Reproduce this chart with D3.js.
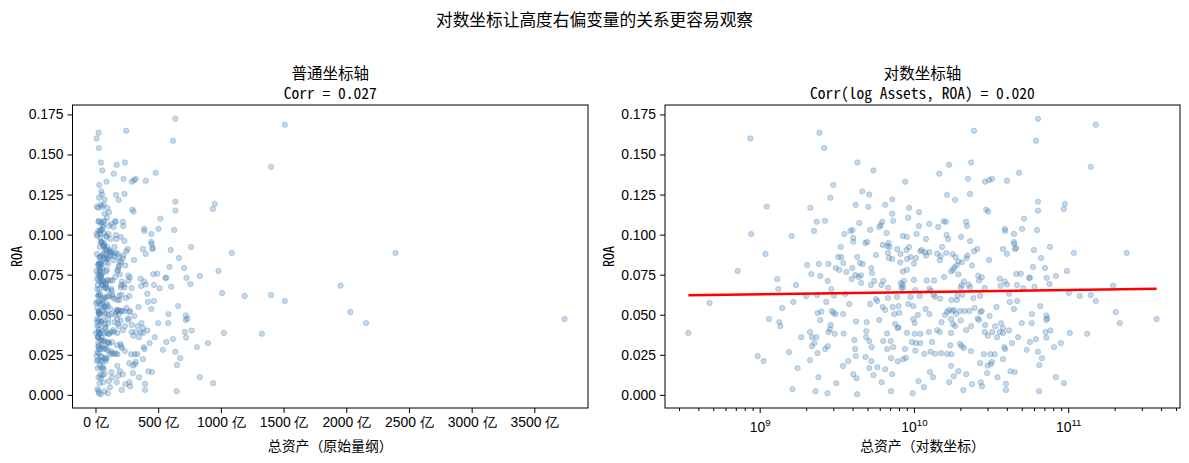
<!DOCTYPE html>
<html>
<head>
    <meta charset="utf-8">
    <title>对数坐标 vs 普通坐标</title>
    <script src="https://d3js.org/d3.v7.min.js"></script>
    <style>
        body {
            margin: 0;
            background: #fff;
            font-family: "Noto Sans Mono CJK SC", "Noto Sans CJK SC", sans-serif;
        }

        svg text {
            fill: #000;
        }

        .tick text {
            font-size: 13.9px;
        }

        .tick line {
            stroke: #000;
            stroke-width: 1;
        }

        .axis path {
            display: none;
        }

        .frame {
            fill: none;
            stroke: #000;
            stroke-width: 1;
        }

        .point {
            fill: steelblue;
            fill-opacity: 0.3;
            stroke: steelblue;
            stroke-opacity: 0.3;
            stroke-width: 1;
        }

        .trend {
            fill: none;
            stroke: red;
            stroke-width: 2.5;
        }
    </style>
</head>
<body>
    <div id="chart"></div>

    <script>
        // 总资产（单位：亿）与 ROA，两张子图共用同一批样本
        const assetsYi = [
            8.7, 24.4, 26.2, 43, 54.5, 87.7, 30, 46.2, 51.3, 28.7, 72.3, 11.1, 21.3, 41.9, 50.6, 65.1, 93, 108, 72.3, 91.7,
            637, 1510, 245, 618, 169, 235, 146, 224, 289, 307, 321, 401, 480, 1400, 164, 185, 231, 637, 952, 936,
            637, 294, 303, 517, 156,
            23.4, 26.5, 22.5, 8.8, 16.1, 44.2, 38.7, 40, 35.4, 52, 59.6, 60.8, 62.3, 66.5, 73.4, 107.6, 84.8, 90, 104, 40.4,
            40.4, 48.3, 49.8, 68.5, 62.7, 67.1, 69.5, 77.9, 89.5, 93, 112, 33.5, 10.9, 32.3, 33.8, 42.9, 56.7, 67.8, 68.8, 72.3,
            81.9, 81.5, 90.3, 95, 103, 100, 110, 34.8, 44.7, 46.5, 20.3, 24.2, 27.9, 31.1, 32.8, 36.4, 39.8, 52.9, 7.2, 21.6,
            24.7, 39.5, 41.7, 43.8, 45.4, 53.4, 45.5, 52.6, 55.3, 61.4, 63.2, 68, 82, 84, 83, 85, 86, 100, 90, 84.8,
            102, 27.6, 13, 13.2, 17.2, 29.1, 30.3, 20, 23.6, 35.9, 4.73, 16.5, 27, 38.1, 51.9, 56.7, 57.8, 62.7, 67.8, 72.7,
            77.9, 79.5, 92, 95, 99, 109, 14, 23.7, 25.1, 29.4, 30.1, 31, 34.7, 65.1, 74.5, 80.2, 106, 11.5, 13.4, 13.6,
            24.7, 28.9, 28.5, 42.1, 49.4, 59.6, 75.5, 78.3, 79.5, 99, 101, 3.45, 21.2, 27.9, 30.6, 35, 49.1, 67, 90, 101,
            110,
            125.6, 143.6, 161, 218, 221, 388, 390, 445, 502, 628, 119.6, 162.6, 166.7, 202, 231, 152, 118, 126, 120, 141.5,
            149, 147, 162, 178, 186, 194, 189, 183, 174, 179, 194, 204, 219, 222, 238, 245, 257, 307, 378, 401,
            445, 447, 459, 452, 600, 666, 762, 1087, 2393, 591, 707, 981, 832, 725, 565, 557, 461, 492, 360, 388,
            401, 261, 275, 264, 211, 227, 231, 201, 204, 121, 135, 157, 126, 129, 134, 137, 288, 364, 466, 512,
            604, 757, 1954, 148, 175, 190, 206, 191, 243, 269, 343, 418, 413, 466, 445, 1010, 1189, 1400, 1510, 659,
            2032, 2158, 3741, 119, 126, 151, 141, 159, 164, 169, 177, 182, 188, 174, 179, 185, 174, 199, 213, 229,
            201, 235, 218, 247, 270, 275, 259, 264, 309, 289, 336, 367, 378, 413, 378, 500, 582, 721, 732, 721,
            580, 288, 322, 360, 712, 767, 1024, 1327, 147, 125,
            9.7, 10.6, 15.5, 17.6, 16.3, 18.6, 21.8, 23.3, 22.6, 21.8, 21.2, 23.7, 24, 23, 26.6, 27.6, 27.5, 31.4, 37.5, 34.7,
            41.1, 41.6, 42, 40.4, 42.4, 42.8, 49, 51.3, 53.2, 48.5, 51.3, 54.6, 53, 57.9, 61.7, 65.1, 63.2, 67.1, 70.6, 73.4,
            71, 72.3, 71, 78.6,
            88.7, 87.5, 85.3, 97, 103, 110, 102, 116.6, 128, 137, 150, 164, 175, 131, 172, 199, 204, 211, 234, 174,
            181, 169, 127, 133, 107, 116, 98, 194, 218, 209, 238, 271, 276, 269, 284, 313, 334, 301, 346, 300,
            316, 320, 298, 348, 378, 385, 390, 432, 473, 538, 565, 618, 637, 676, 650, 395, 395, 422, 451, 647,
            722, 809, 897, 832, 938
        ];

        const roa = [
            .160, .1636, .154, .145, .140, .133, .131, .127, .125, .123, .122, .1175, .1167, .1186, .1173, .1186, .1167, .114, .113, .1106,
            .1723, .1686, .1648, .1586, .1436, .145, .138, .1348, .133, .134, .1348, .1336, .1386, .1423, .1248, .1217, .1254, .1206, .1192, .116,
            .115, .1156, .1144, .110, .1083,
            .108, .1086, .1023, .1004, .0992, .1073, .1023, .1029, .1004, .103, .1048, .106, .108, .101, .1086, .1054, .0992, .0986, .1004, .098,
            .0955, .0948, .0954, .0948, .0936, .0929, .0923, .091, .0904, .0923, .0904, .0923, .0879, .086, .086, .086, .0873, .0886, .0854, .0848,
            .0879, .0827, .0848, .086, .0854, .082, .0896, .0823, .0823, .0817, .081, .0817, .0817, .0792, .078, .0767, .0792, .0792, .0773, .0754,
            .0742, .0723, .0748, .0736, .0746, .076, .0698, .0686, .0711, .0686, .0711, .0669, .0698, .0686, .0667, .067, .0711, .0717, .078, .077,
            .0654, .0711, .0723, .066, .0686, .066, .062, .0617, .0623, .063, .0573, .058, .058, .0567, .0567, .0598, .0586, .0548, .0604, .0548,
            .0611, .0554, .0567, .0611, .0554, .0617, .0542, .0511, .052, .0523, .0511, .0504, .0504, .053, .0504, .0511, .0498, .0473, .0454, .0429,
            .0467, .0436, .041, .0458, .0454, .0467, .0442, .0417, .0421, .0473, .0448, .0386, .0392, .0392, .0381, .0383, .0398, .0383, .0388, .0381,
            .0381,
            .1067, .1048, .108, .108, .1054, .1036, .1023, .1004, .1036, .1029, .0973, .0998, .0973, .0986, .096, .0923, .089, .089, .087, .0881,
            .0865, .084, .0886, .0879, .086, .0833, .0808, .0796, .077, .078, .0752, .0827, .0852, .087, .0808, .0896, .091, .0842, .091, .088,
            .0954, .0942, .0917, .091, .0904, .0854, .0923, .0886, .0886, .0798, .0792, .0773, .0742, .073, .0731, .073, .0754, .0756, .0725, .0708,
            .0688, .0744, .0733, .0713, .0708, .0688, .067, .067, .0685, .0714, .0714, .0736, .0662, .065, .0625, .0612, .0667, .068, .0686, .0665,
            .0675, .0692, .0681, .06, .0592, .0592, .0625, .0619, .0604, .0617, .0548, .058, .0631, .0586, .0536, .0636, .0617, .0623, .0586, .0554,
            .0517, .0448, .0473, .0536, .0504, .0454, .0404, .0498, .0517, .053, .0523, .053, .0504, .0473, .0442, .0429, .0386, .0523, .0523, .0523,
            .0464, .0429, .0404, .0542, .0517, .0523, .0477, .0467, .0492, .0436, .0429, .0448, .0417, .0402, .0386, .0448, .0504, .0496, .0477, .0467,
            .0448, .0392, .0392, .0392, .0392, .0402, .0386, .0381, .0392, .0392,
            .0242, .0211, .0267, .0167, .0036, .036, .036, .036, .0323, .0304, .0217, .026, .011, .0023, .0286, .0304, .001, .0073, .021, .018,
            .0342, .0286, .0242, .0129, .0104, .0004, .036, .0336, .0298, .0236, .0167, .0123, .021, .0173, .0079, .016, .0336, .0286, .0336, .0298,
            .0229, .0129, .0023, .021,
            .0231, .0286, .0223, .033, .0323, .0323, .0275, .0256, .0269, .0256, .026, .0256, .0254, .033, .031, .0317, .0304, .0292, .0273, .0181,
            .0117, .0079, .0142, .011, .0086, .0048, .001, .0148, .0129, .003, .0067, .0079, .0054, .0198, .0254, .0254, .0254, .0369, .036, .0183,
            .0192, .0206, .0136, .011, .0223, .0298, .0286, .0323, .036, .0281, .033, .0348, .0269, .0229, .0186, .0069, .0031, .0148, .0142, .0023,
            .0358, .0298, .0323, .011, .0073
        ];

        // 右图拟合线（log 资产 对 ROA），两端读自原图
        const fitAssetsYi = [3.45, 3741];
        const fitRoa = [0.0622, 0.0662];

        const roaTicks = [0, 0.025, 0.05, 0.075, 0.1, 0.125, 0.15, 0.175];
        const linearTicks = [0, 500, 1000, 1500, 2000, 2500, 3000, 3500];
        const logMajorTicks = [1e9, 1e10, 1e11];
        const logExponents = [9, 10, 11];

        const titleMain = "对数坐标让高度右偏变量的关系更容易观察";
        const leftTitle = ["普通坐标轴", "Corr = 0.027"];
        const rightTitle = ["对数坐标轴", "Corr(log Assets, ROA) = 0.020"];

        const points = assetsYi.map((a, i) => ({a: a, v: a * 1e8, r: roa[i]}));

        const width = 1189, height = 463;
        const plotTop = 105, plotBottom = 408;
        const leftBox = {x0: 72.5, x1: 588};
        const rightBox = {x0: 665, x1: 1180};

        const svg = d3.select("#chart").append("svg")
            .attr("width", width)
            .attr("height", height);

        // matplotlib 默认 5% 边距
        function pad(ext, f) {
            const d = (ext[1] - ext[0]) * f;
            return [ext[0] - d, ext[1] + d];
        }

        const y = d3.scaleLinear()
            .domain(pad(d3.extent(points, d => d.r), 0.05))
            .range([plotBottom, plotTop]);

        const xLin = d3.scaleLinear()
            .domain(pad(d3.extent(points, d => d.a), 0.05))
            .range([leftBox.x0, leftBox.x1]);

        const logExt = pad(d3.extent(points, d => Math.log10(d.v)), 0.05);
        const xLog = d3.scaleLog()
            .domain([Math.pow(10, logExt[0]), Math.pow(10, logExt[1])])
            .range([rightBox.x0, rightBox.x1]);

        svg.append("text")
            .attr("x", width / 2)
            .attr("y", 26)
            .attr("text-anchor", "middle")
            .style("font-size", "16.7px")
            .text(titleMain);

        function panel(box, titles, xLabel) {
            const g = svg.append("g");
            const cx = (box.x0 + box.x1) / 2;

            g.append("g")
                .attr("class", "axis")
                .attr("transform", `translate(${box.x0},0)`)
                .call(d3.axisLeft(y).tickValues(roaTicks).tickFormat(d3.format(".3f"))
                    .tickSize(5).tickPadding(4));

            titles.forEach((t, i) => {
                g.append("text")
                    .attr("x", cx)
                    .attr("y", 79 + i * 20)
                    .attr("text-anchor", "middle")
                    .style("font-size", "15.5px")
                    .text(t);
            });

            g.append("text")
                .attr("x", cx)
                .attr("y", 451)
                .attr("text-anchor", "middle")
                .style("font-size", "13.9px")
                .text(xLabel);

            g.append("text")
                .attr("transform", `translate(${box.x0 - 51},${(plotTop + plotBottom) / 2}) rotate(-90)`)
                .attr("text-anchor", "middle")
                .style("font-size", "13.9px")
                .text("ROA");

            return g;
        }

        // 左图：普通坐标
        const gl = panel(leftBox, leftTitle, "总资产（原始量纲）");

        gl.append("g")
            .attr("class", "axis")
            .attr("transform", `translate(0,${plotBottom})`)
            .call(d3.axisBottom(xLin).tickValues(linearTicks).tickFormat(d => d + " 亿")
                .tickSize(5).tickPadding(4));

        gl.selectAll(".point")
            .data(points)
            .enter()
            .append("circle")
            .attr("class", "point")
            .attr("cx", d => xLin(d.a))
            .attr("cy", d => y(d.r))
            .attr("r", 2.7);

        gl.append("rect")
            .attr("class", "frame")
            .attr("x", leftBox.x0)
            .attr("y", plotTop)
            .attr("width", leftBox.x1 - leftBox.x0)
            .attr("height", plotBottom - plotTop);

        // 右图：对数坐标
        const gr = panel(rightBox, rightTitle, "总资产（对数坐标）");

        const minorTicks = [];
        [1e8, 1e9, 1e10, 1e11].forEach(base => {
            for (let k = 2; k <= 9; k++) {
                const v = base * k;
                if (v > xLog.domain()[0] && v < xLog.domain()[1]) minorTicks.push(v);
            }
        });

        gr.append("g")
            .attr("class", "axis")
            .attr("transform", `translate(0,${plotBottom})`)
            .call(d3.axisBottom(xLog).tickValues(minorTicks).tickFormat("").tickSize(3));

        const majorAxis = gr.append("g")
            .attr("class", "axis")
            .attr("transform", `translate(0,${plotBottom})`)
            .call(d3.axisBottom(xLog).tickValues(logMajorTicks).tickFormat("").tickSize(5));

        majorAxis.selectAll(".tick").each(function(d, i) {
            const t = d3.select(this).append("text")
                .attr("y", 24)
                .attr("text-anchor", "middle");
            t.append("tspan").text("10");
            t.append("tspan")
                .attr("dy", -6)
                .style("font-size", "9.7px")
                .text(logExponents[i]);
        });

        gr.selectAll(".point")
            .data(points)
            .enter()
            .append("circle")
            .attr("class", "point")
            .attr("cx", d => xLog(d.v))
            .attr("cy", d => y(d.r))
            .attr("r", 2.7);

        const fit = fitAssetsYi.map((a, i) => ({v: a * 1e8, r: fitRoa[i]}));

        gr.append("path")
            .datum(fit)
            .attr("class", "trend")
            .attr("d", d3.line().x(d => xLog(d.v)).y(d => y(d.r)));

        gr.append("rect")
            .attr("class", "frame")
            .attr("x", rightBox.x0)
            .attr("y", plotTop)
            .attr("width", rightBox.x1 - rightBox.x0)
            .attr("height", plotBottom - plotTop);
    </script>
</body>
</html>
